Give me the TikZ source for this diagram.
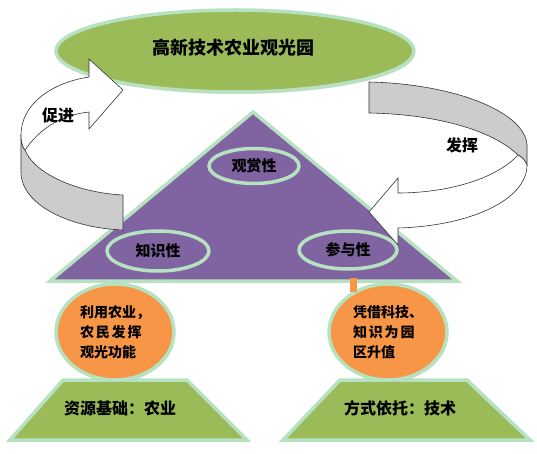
\documentclass[tikz,border=0pt]{standalone}
\usepackage{fontspec}
\setmainfont{Noto Sans CJK SC}
\usepackage{tikz}
\usetikzlibrary{shapes.geometric,shadows}
\definecolor{parkgreen}{HTML}{9BBB59}
\definecolor{parkmint}{HTML}{B7E2C1}
\definecolor{parkpurple}{HTML}{8064A2}
\definecolor{parkorange}{HTML}{F79646}
\definecolor{parkgray}{HTML}{CCCCCC}

\begin{document}
\begin{tikzpicture}[x=1pt, y=-1pt,
  rim/.style={draw=parkmint, line width=3.5pt},
  oval/.style={ellipse, rim, inner sep=0pt, font=\bfseries,
    drop shadow={opacity=0.25, shadow xshift=1pt, shadow yshift=-2pt}},
  ball/.style={oval, fill=parkorange, minimum width=118pt, minimum height=96pt,
    font=\fontsize{14}{20}\selectfont\bfseries, align=left},
  base/.style={rim, fill=parkgreen},
  ribbon/.style={draw=black!80, line width=0.6pt, line join=miter},
  lbl/.style={font=\fontsize{16}{18}\selectfont\bfseries}
]
  \useasboundingbox (0,0) rectangle (537,454);

  % top goal
  \node[oval, fill=parkgreen, minimum width=358pt, minimum height=82pt,
    font=\fontsize{18}{20}\selectfont\bfseries] (park) at (235,51) {};
  \node[font=\fontsize{18}{20}\selectfont\bfseries] (parktxt) at (233,48) {高新技术农业观光园};

  % triangle with three features
  \draw[rim, fill=parkpurple, drop shadow={opacity=0.25, shadow xshift=1pt, shadow yshift=-2pt}]
    (50,281) -- (457,281) -- (253,112) -- cycle;
  \node[oval, fill=parkpurple, minimum width=90pt, minimum height=35pt,
    font=\fontsize{15}{17}\selectfont\bfseries] (view) at (254,166) {观赏性};
  \node[oval, fill=parkpurple, minimum width=102pt, minimum height=40pt,
    font=\fontsize{15}{17}\selectfont\bfseries] (know) at (158,251) {知识性};
  \node[oval, fill=parkpurple, minimum width=98pt, minimum height=38pt,
    font=\fontsize{15}{17}\selectfont\bfseries] (join) at (348,250) {参与性};

  % bases
  \draw[base] (63,380) -- (187,380) -- (247,440) -- (10,440) -- cycle;
  \draw[base] (340,380) -- (467,380) -- (530,440) -- (283,440) -- cycle;
  \node[lbl] (res) at (120,408) {资源基础：农业};
  \node[lbl] (way) at (400,408) {方式依托：技术};

  % supports
  \node[ball] (use) at (115,332) {利用农业，\\\makebox[4.4em][l]{农\hfill 民\hfill 发\hfill 挥}\\观光功能};
  \node[ball] (tech) at (388,332) {凭借科技、\\\makebox[4.4em][l]{知\hfill 识\hfill 为\hfill 园}\\区升值};
  \fill[parkorange] (350,278) rectangle (357,292);

  % left curved arrow
  \draw[ribbon, fill=parkgray] (21,135) .. controls (21,143) and (23,148) .. (25,150)
    .. controls (35,175) and (80,193) .. (123,195) -- (123,230)
    .. controls (70,228) and (21,205) .. (21,172) -- cycle;
  \draw[ribbon, fill=white] (89,77) .. controls (50,83) and (21,105) .. (21,135)
    .. controls (21,143) and (23,148) .. (25,150)
    .. controls (40,128) and (62,115) .. (89,112) -- (89,129) -- (123,90) -- (89,59) -- cycle;
  \node[lbl] (promote) at (58,115) {促进};

  % right curved arrow
  \draw[ribbon, fill=parkgray] (369,82) .. controls (455,84) and (525,112) .. (527,145)
    -- (527,165) .. controls (525,160) and (522,157) .. (518,155)
    .. controls (490,128) and (430,114) .. (369,113) -- cycle;
  \draw[ribbon, fill=white] (518,155) .. controls (495,180) and (445,193) .. (398,193)
    -- (398,178) -- (369,212) -- (398,245) -- (398,228)
    .. controls (470,226) and (527,200) .. (527,165)
    .. controls (525,160) and (522,157) .. (518,155) -- cycle;
  \node[lbl] (exert) at (462,145) {发挥};
\end{tikzpicture}
\end{document}
